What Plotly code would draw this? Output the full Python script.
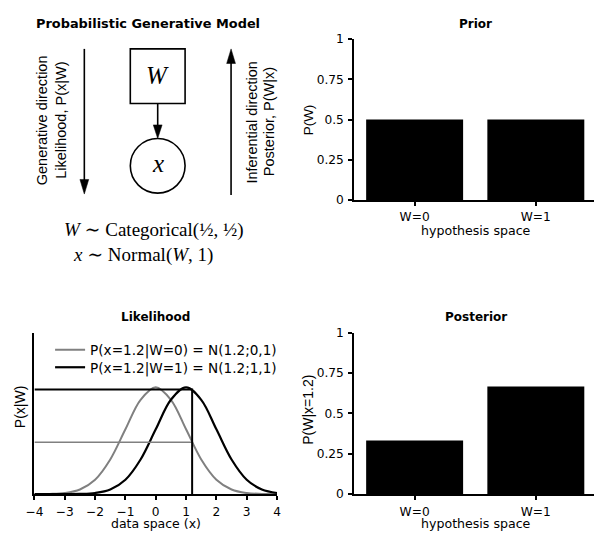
import plotly.graph_objects as go

W_W = 598
H_H = 545

# ---------------- data ----------------
hyp_labels = ["W=0", "W=1"]
hyp_pos = [0, 1]
prior_vals = [0.5, 0.5]
posterior_vals = [0.333, 0.667]

x_grid = [-4, -3.5, -3, -2.5, -2, -1.5, -1, -0.5, 0, 0.5, 1, 1.5, 2, 2.5, 3, 3.5, 4]
lik_w0 = [0.0001, 0.0009, 0.0044, 0.0175, 0.054, 0.1295, 0.242, 0.3521, 0.3989,
          0.3521, 0.242, 0.1295, 0.054, 0.0175, 0.0044, 0.0009, 0.0001]
lik_w1 = [0.0, 0.0, 0.0001, 0.0009, 0.0044, 0.0175, 0.054, 0.1295, 0.242,
          0.3521, 0.3989, 0.3521, 0.242, 0.1295, 0.054, 0.0175, 0.0044]
x_obs = 1.2
p_obs_w0 = 0.194
p_obs_w1 = 0.391

prob_ticks = [0, 0.25, 0.5, 0.75, 1]
prob_tick_text = ["0", "0.25", "0.5", "0.75", "1"]
data_ticks = [-4, -3, -2, -1, 0, 1, 2, 3, 4]

SANS = "Liberation Sans, Arial, sans-serif"
WIDE = "DejaVu Sans, Verdana, sans-serif"
SERIF = "Liberation Serif, DejaVu Serif, serif"
GRAY = "#808080"


def X(p):
    return p / W_W


def Y(p):
    return 1 - p / H_H


fig = go.Figure()

# Prior
fig.add_trace(go.Bar(x=hyp_pos, y=prior_vals, width=0.8, marker=dict(color="black", line=dict(width=0)),
                     xaxis="x", yaxis="y", showlegend=False))
# Posterior
fig.add_trace(go.Bar(x=hyp_pos, y=posterior_vals, width=0.8, marker=dict(color="black", line=dict(width=0)),
                     xaxis="x3", yaxis="y3", showlegend=False))

# Likelihood curves
fig.add_trace(go.Scatter(x=x_grid, y=lik_w0, mode="lines", line=dict(color=GRAY, width=2, shape="spline"),
                         name="P(x=1.2|W=0) = N(1.2;0,1)", xaxis="x2", yaxis="y2", legend="legend"))
fig.add_trace(go.Scatter(x=x_grid, y=lik_w1, mode="lines", line=dict(color="black", width=2.2, shape="spline"),
                         name="P(x=1.2|W=1) = N(1.2;1,1)", xaxis="x2", yaxis="y2", legend="legend2"))
# observation guide lines
fig.add_trace(go.Scatter(x=[-4, x_obs], y=[p_obs_w0, p_obs_w0], mode="lines",
                         line=dict(color=GRAY, width=1.5), showlegend=False, xaxis="x2", yaxis="y2"))
fig.add_trace(go.Scatter(x=[-4, x_obs, x_obs], y=[p_obs_w1, p_obs_w1, 0], mode="lines",
                         line=dict(color="black", width=2), showlegend=False, xaxis="x2", yaxis="y2"))

axis_common = dict(showline=True, linecolor="black", linewidth=1.5, ticks="outside", ticklen=4,
                   tickwidth=1.5, tickcolor="black", showgrid=False, zeroline=False)

tick_font = dict(family=WIDE, size=12.2, color="black")
bar_x = dict(axis_common, range=[-0.5, 1.48], tickvals=hyp_pos, ticktext=hyp_labels,
             tickfont=tick_font, ticklabelstandoff=1)
bar_y = dict(axis_common, range=[0, 1], tickvals=prob_ticks, ticktext=prob_tick_text,
             tickfont=tick_font, ticklabelstandoff=2)

leg_common = dict(xanchor="left", yanchor="top", bgcolor="rgba(0,0,0,0)",
                  font=dict(family=WIDE, size=13.6, color="black"), borderwidth=0)

fig.update_layout(
    width=W_W, height=H_H, margin=dict(l=0, r=0, t=0, b=0),
    paper_bgcolor="white", plot_bgcolor="white",
    font=dict(family=WIDE, size=12.5, color="black"),
    xaxis=dict(bar_x, domain=[X(352.7), 1.0], anchor="y"),
    yaxis=dict(bar_y, domain=[Y(198), Y(33)], anchor="x"),
    xaxis3=dict(bar_x, domain=[X(352.7), 1.0], anchor="y3"),
    yaxis3=dict(bar_y, domain=[Y(500), Y(334.3)], anchor="x3"),
    xaxis2=dict(axis_common, range=[-4, 4], tickvals=data_ticks, domain=[X(26), X(274)], anchor="y2",
                tickfont=tick_font, ticklabelstandoff=1),
    yaxis2=dict(axis_common, range=[0, 0.6], ticks="", showticklabels=False,
                domain=[Y(500), Y(335)], anchor="x2"),
    showlegend=True,
    legend=dict(leg_common, x=X(42), y=Y(336)),
    legend2=dict(leg_common, x=X(42), y=Y(354)),
)

ann = []


def txt(x, y, s, size=12.5, bold=False, angle=0, family=WIDE):
    ann.append(dict(x=X(x), y=Y(y), xref="paper", yref="paper", text=("<b>%s</b>" % s) if bold else s,
                    showarrow=False, xanchor="center", yanchor="middle", textangle=angle,
                    font=dict(family=family, size=size, color="black")))


txt(142, 17, "Probabilistic Generative Model", 12.9, True)
txt(477, 17, "Prior", 12, True)
txt(150, 318, "Likelihood", 12, True)
txt(477.5, 318, "Posterior", 12, True)

txt(477, 229.5, "hypothesis space", 12.6)
txt(477, 530.5, "hypothesis space", 12.6)
txt(150, 530.5, "data space (x)", 12.5)
txt(306, 116, "P(W)", 13.5, angle=-90, family=SANS)
txt(306, 413, "P(W|x=1.2)", 14, angle=-90, family=SANS)
txt(12, 410, "P(x|W)", 14, angle=-90, family=SANS)

# diagram texts
txt(34, 116, "Generative direction", 14.5, angle=-90, family=SANS)
txt(53, 116, "Likelihood, P(x|W)", 14.5, angle=-90, family=SANS)
txt(248, 118, "Inferential direction", 14.5, angle=-90, family=SANS)
txt(266, 118, "Posterior, P(W|x)", 14.5, angle=-90, family=SANS)
txt(152, 70, "<i>W</i>", 25, family=SERIF)
txt(152, 161, "<i>x</i>", 25, family=SERIF)
txt(148, 229, "<i>W</i> ∼ Categorical(½, ½)", 19, family=SERIF)
txt(137, 255, "<i>x</i> ∼ Normal(<i>W</i>, 1)", 19, family=SERIF)

fig.update_layout(annotations=ann)

shapes = []
LW = 1.6


def line(x0, y0, x1, y1, w=LW):
    shapes.append(dict(type="line", xref="paper", yref="paper", x0=X(x0), y0=Y(y0), x1=X(x1), y1=Y(y1),
                       line=dict(color="black", width=w)))


def tri(tipx, tipy, direction, length=15, half=4.5):
    by = tipy - length if direction == "down" else tipy + length
    path = "M %f,%f L %f,%f L %f,%f Z" % (X(tipx), Y(tipy), X(tipx - half), Y(by), X(tipx + half), Y(by))
    shapes.append(dict(type="path", xref="paper", yref="paper", path=path,
                       fillcolor="black", line=dict(color="black", width=0.5)))


# generative arrow (down)
line(77, 43, 77, 180)
tri(77, 192, "down")
# inferential arrow (up)
line(227, 56, 227, 193)
tri(227, 43, "up")
# box W
shapes.append(dict(type="rect", xref="paper", yref="paper", x0=X(124), y0=Y(99), x1=X(180), y1=Y(43),
                   line=dict(color="black", width=LW)))
# arrow W -> x
line(152, 99, 152, 124)
tri(152, 135, "down", length=14, half=4.5)
# circle x
shapes.append(dict(type="circle", xref="paper", yref="paper", x0=X(124), y0=Y(191), x1=X(180), y1=Y(135),
                   line=dict(color="black", width=LW)))

fig.update_layout(shapes=shapes)

fig.write_html("out.html")
